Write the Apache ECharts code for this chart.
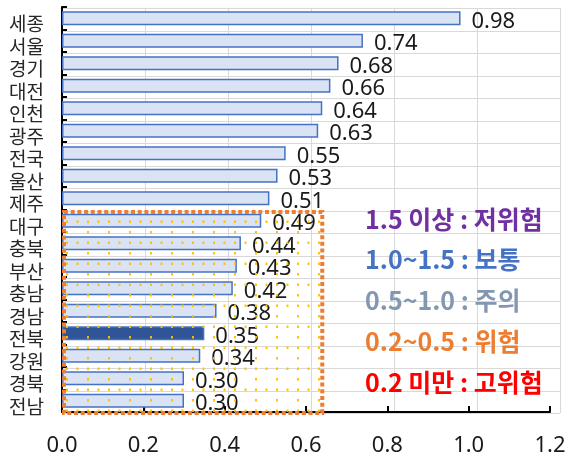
<!DOCTYPE html>
<html>
<head>
<meta charset="utf-8">
<script src="https://cdn.jsdelivr.net/npm/echarts@6/dist/echarts.min.js"></script>
<style>
html,body{margin:0;padding:0;background:#fff;}
#c{width:573px;height:458px;}
</style>
</head>
<body>
<div id="c"></div>
<script>
// ---- data ----
const categories = ['세종','서울','경기','대전','인천','광주','전국','울산','제주','대구','충북','부산','충남','경남','전북','강원','경북','전남'];
const values = [0.98,0.74,0.68,0.66,0.64,0.63,0.55,0.53,0.51,0.49,0.44,0.43,0.42,0.38,0.35,0.34,0.30,0.30];
const highlighted = '전북';
const xMin = 0, xMax = 1.2, xStep = 0.2;
const riskBox = { from: '대구', to: '전남', xFrom: 0, xTo: 0.64 };
const legendTexts = ['1.5 이상 : 저위험','1.0~1.5 : 보통','0.5~1.0 : 주의','0.2~0.5 : 위험','0.2 미만 : 고위험'];
const legendColors = ['#7030A0','#4472C4','#8497B0','#ED7D31','#FF0000'];
const sheetCols = 6;   // background worksheet cell columns

const chart = echarts.init(document.getElementById('c'), null, {renderer:'canvas'});

const barData = values.map((v,i)=>({
  value: v,
  itemStyle: categories[i]===highlighted ? {color:'#2F5597', borderColor:'#4472C4'} : undefined
}));

chart.setOption({
  animation:false,
  backgroundColor:'#fff',
  grid:{left:62, right:23, top:7, bottom:46, containLabel:false, outerBoundsMode:'none'},
  xAxis:{type:'value', min:xMin, max:xMax, interval:xStep,
     axisLine:{show:true, lineStyle:{color:'#000', width:2}},
     axisTick:{show:true, inside:true, length:6, lineStyle:{color:'#000', width:2}},
     splitLine:{show:false},
     axisLabel:{fontSize:22, color:'#1a1a1a', fontFamily:'Noto Sans', margin:23,
       formatter:v=>v.toFixed(1)}},
  yAxis:{type:'category', data:categories, inverse:true,
     axisLine:{show:true, lineStyle:{color:'#000', width:2}},
     axisTick:{show:true, inside:true, length:5, interval:0, lineStyle:{color:'#000', width:2}},
     splitLine:{show:false},
     axisLabel:{interval:0, margin:18,
       formatter:v=>'{a|'+v+'}',
       rich:{a:{fontSize:19, color:'#262626', fontFamily:'Noto Sans CJK KR', padding:[12,0,0,0]}}}},
  series:[{
    type:'bar',
    data:barData,
    barWidth:14,
    itemStyle:{color:'#DAE3F3', borderColor:'#4472C4', borderWidth:1.5},
    label:{show:true, position:'right', distance:11, offset:[0,3],
      fontSize:22, color:'#1a1a1a', fontFamily:'Noto Sans',
      formatter:p=>p.value.toFixed(2)},
    z:3
  }]
});

const band = chart.convertToPixel({yAxisIndex:0}, categories[1]) - chart.convertToPixel({yAxisIndex:0}, categories[0]);
const firstY = chart.convertToPixel({yAxisIndex:0}, categories[0]);
const lastY = chart.convertToPixel({yAxisIndex:0}, categories[categories.length-1]);
const x0 = chart.convertToPixel({xAxisIndex:0}, xMin);
const xEnd = chart.convertToPixel({xAxisIndex:0}, xMax);

// worksheet cell grid behind the chart
const graphics = [];
const gTop = firstY - band/2 + 1, gBot = lastY + band/2 + 1;
const gLeft = x0, gRight = xEnd + 10;
if (isFinite(gTop) && isFinite(gBot) && isFinite(gLeft) && isFinite(gRight)) {
  for (let k=0;k<=sheetCols;k++){
    const x = Math.round(gLeft + (gRight-gLeft)*k/sheetCols) + 0.5;
    graphics.push({type:'line', z:0, silent:true, shape:{x1:x, y1:gTop, x2:x, y2:gBot},
      style:{stroke:'#D9D9D9', lineWidth:1}});
  }
  for (let k=0;k<=categories.length;k++){
    const y = Math.round(gTop + band*k) + 0.5;
    graphics.push({type:'line', z:0, silent:true, shape:{x1:gLeft, y1:y, x2:gRight, y2:y},
      style:{stroke:'#D9D9D9', lineWidth:1}});
  }
}

// dotted pattern
const tile = document.createElement('canvas');
tile.width = 21; tile.height = 21;
const tctx = tile.getContext('2d');
tctx.fillStyle = 'rgba(255,192,0,0.95)';
tctx.fillRect(3,0,2,2.5);
tctx.fillRect(3,10.5,2,2.5);
tctx.fillRect(13.5,10.5,2,2.5);

const yTop = chart.convertToPixel({yAxisIndex:0}, riskBox.from) - band/2 + 2.5;
const yBot = chart.convertToPixel({yAxisIndex:0}, riskBox.to) + band/2 + 1;
const xL = chart.convertToPixel({xAxisIndex:0}, riskBox.xFrom) + 2;
const xR = chart.convertToPixel({xAxisIndex:0}, riskBox.xTo);

graphics.push(
  {type:'rect', z:10, shape:{x:xL, y:yTop, width:xR-xL, height:yBot-yTop},
   style:{fill:{image:tile, repeat:'repeat'}, stroke:null}, silent:true},
  {type:'rect', z:11, shape:{x:xL, y:yTop, width:xR-xL, height:yBot-yTop},
   style:{fill:'none', stroke:'#ED7D31', lineWidth:4, lineDash:[4,2.7]}, silent:true}
);
legendTexts.forEach((t,i)=>{
  graphics.push({type:'text', z:12,
    style:{x:365, y:219 + i*40.75, text:t, fill:legendColors[i], verticalAlign:'middle',
      font:'bold 25px "Noto Sans CJK KR"'}});
});
chart.setOption({graphic:graphics});
</script>
</body>
</html>
